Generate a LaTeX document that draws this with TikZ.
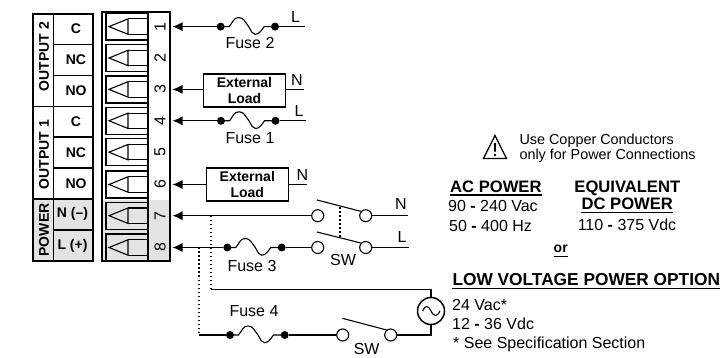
\documentclass[tikz,border=0pt]{standalone}
\usepackage{fontspec}
\setmainfont{Liberation Sans}
\usetikzlibrary{calc, arrows.meta}
\definecolor{pwr}{HTML}{e3e3e3}
\newcommand{\fuse}[2]{\draw[wire] (#1.center) -- ++(8.5,0)
	.. controls +(4,-5) and +(-5,0) .. ++(9.5,-9)
	.. controls +(5,0) and +(-4,-5) .. ++(10,9)
	.. controls +(3,5) and +(-3,0) .. ++(6.5,7.7)
	.. controls +(4,0) and +(-3,4) .. ++(9,-7.7) -- (#2.center);}
\newcommand{\uline}[2]{\draw[line width=1.2pt] ($(#1.base west)+(0,#2)$) -- ($(#1.base east)+(0,#2)$);}
\tikzset{
	wire/.style={line width=1.1pt},
	feed/.style={wire, -{Latex[length=10pt,width=9pt]}},
	dots/.style={line width=1.7pt, dash pattern=on 1.7pt off 2.3pt},
	fusedot/.style={circle, fill=black, inner sep=0pt, minimum size=8pt},
	contact/.style={circle, draw, wire, fill=white, inner sep=0pt, minimum size=12pt},
	txt/.style={inner sep=0pt, font=\fontsize{16}{18}\selectfont},
	bold/.style={inner sep=0pt, font=\fontsize{14}{15.5}\selectfont\bfseries},
	head/.style={inner sep=0pt, font=\fontsize{16.6}{18}\selectfont\bfseries},
	loadbox/.style={draw, wire, bold, align=center, minimum width=82pt, minimum height=33pt}
}
\begin{document}
\begin{tikzpicture}[x=1pt, y=-1pt]
	\useasboundingbox (0,0) rectangle (723,358);

	% Label strip
	\fill[pwr] (33,199) rectangle (93,261);
	\draw[wire] (33,14) rectangle (93,261);
	\draw[wire] (53.5,14) -- (53.5,261);
	\foreach \y in {44.5,75.5,137,168,230} \draw[wire] (53.5,\y) -- (93,\y);
	\draw[wire] (33,106.5) -- (93,106.5);
	\draw[wire] (33,199) -- (93,199);
	\node[bold, rotate=90] (out2) at (44,56.7) {OUTPUT 2};
	\node[bold, rotate=90] (out1) at (44,154.5) {OUTPUT 1};
	\node[bold, rotate=90] (power) at (44,230) {POWER};
	\node[bold] (lc2) at (76,29) {C};
	\node[bold] (lnc2) at (76,60) {NC};
	\node[bold] (lno2) at (76,90.5) {NO};
	\node[bold] (lc1) at (76,122) {C};
	\node[bold] (lnc1) at (76,153) {NC};
	\node[bold] (lno1) at (76,183.5) {NO};
	\node[bold] (ln) at (72.5,214) {N (--)};
	\node[bold] (ll) at (72.5,246) {L (+)};

	% Terminal block
	\fill[pwr] (102,200) rectangle (170,261);
	\draw[wire] (102,12) rectangle (170,261);
	\draw[wire] (148,12) -- (148,261);
	\foreach \n/\y in {1/26.6,2/58,3/89.4,4/120.8,5/152.2,6/184.5,7/215.7,8/247.5}{
		\draw[line width=1.3pt] (148,\y-13.5) -- (106,\y-13.5) -- (106,\y+13.5) -- (148,\y+13.5);
		\draw[wire] (128,\y-7.7) -- (109,\y) -- (128,\y+7.7) -- cycle;
		\draw[wire] (128,\y-7.7) -- (148,\y-7.7);
		\draw[wire] (128,\y+7.7) -- (148,\y+7.7);
		\node[txt, rotate=90] (num\n) at (160,\y) {\n};
		\coordinate (t\n) at (172.5,\y);
	}

	% Output 2 and output 1 wiring
	\node[fusedot] (f2a) at (220.7,26.6) {};
	\node[fusedot] (f2b) at (275,26.6) {};
	\coordinate (l2) at (305,26.6);
	\draw[feed] (f2a) -- (t1);
	\fuse{f2a}{f2b}
	\draw[wire] (f2b) -- (l2);
	\node[txt] (l2t) at (295.5,17) {L};
	\node[txt] (f2t) at (250,42.5) {Fuse 2};

	\node[loadbox] (load1) at (244.5,90.5) {External\\Load};
	\coordinate (n1) at (304,89.4);
	\draw[feed] (load1.west |- t3) -- (t3);
	\draw[wire] (load1.east |- t3) -- (n1);
	\node[txt] (n1t) at (297,80) {N};

	\node[fusedot] (f1a) at (221,120.8) {};
	\node[fusedot] (f1b) at (275.5,120.8) {};
	\coordinate (l1) at (306,120.8);
	\draw[feed] (f1a) -- (t4);
	\fuse{f1a}{f1b}
	\draw[wire] (f1b) -- (l1);
	\node[txt] (l1t) at (299,111) {L};
	\node[txt] (f1t) at (250,138) {Fuse 1};

	\node[loadbox] (load2) at (247.3,184.5) {External\\Load};
	\coordinate (n2) at (307,184.5);
	\draw[feed] (load2.west |- t6) -- (t6);
	\draw[wire] (load2.east |- t6) -- (n2);
	\node[txt] (n2t) at (302.5,174.5) {N};

	% Mains switch
	\node[contact] (sw7a) at (317.7,215.7) {};
	\node[contact] (sw7b) at (365.7,215.7) {};
	\node[contact] (sw8a) at (317.7,247.5) {};
	\node[contact] (sw8b) at (365.7,247.5) {};
	\node[fusedot] (f3a) at (227.3,247.5) {};
	\node[fusedot] (f3b) at (281.7,247.5) {};
	\coordinate (nn) at (407.7,215.7);
	\coordinate (ln1) at (409,247.5);
	\draw[feed] (sw7a) -- (t7);
	\draw[feed] (f3a) -- (t8);
	\fuse{f3a}{f3b}
	\draw[wire] (f3b) -- (sw8a);
	\draw[wire] (sw7b) -- (nn);
	\draw[wire] (sw8b) -- (ln1);
	\coordinate (b7a) at (317,200);
	\coordinate (b7b) at (360.7,211.3);
	\coordinate (b8a) at (317,232);
	\coordinate (b8b) at (360.7,243);
	\draw[wire] (b7a) -- (b7b);
	\draw[wire] (b8a) -- (b8b);
	\coordinate (gang7) at (340,207);
	\coordinate (gang8) at (340,238);
	\draw[dots] (gang7) -- (gang8);
	\node[txt] (nnt) at (401,204) {N};
	\node[txt] (lnt) at (402,237) {L};
	\node[txt] (f3t) at (252,265.7) {Fuse 3};
	\node[txt] (sw1t) at (343,260) {SW};

	% Low voltage option
	\node[circle, draw, line width=1.5pt, inner sep=0pt, minimum size=27pt] (src) at (431,311) {};
	\draw[wire] (422.7,311) .. controls (425,305) and (428,305) .. (431,311)
		.. controls (434,317) and (437,317) .. (440,311);
	\coordinate (d7a) at (211,215.7);
	\coordinate (d7b) at (211,289.3);
	\coordinate (d8a) at (199,247.5);
	\coordinate (d8b) at (199,335);
	\draw[dots] (d7a) -- (d7b);
	\draw[dots] (d8a) -- (d8b);
	\draw[wire] (d7b) -| (src.north);
	\node[fusedot] (f4a) at (230,335) {};
	\node[fusedot] (f4b) at (284.7,335) {};
	\node[contact] (sw4a) at (342.7,335) {};
	\node[contact] (sw4b) at (390.7,335) {};
	\draw[wire] (d8b) -- (f4a);
	\fuse{f4a}{f4b}
	\draw[wire] (f4b) -- (sw4a);
	\draw[wire] (sw4b) -| (src.south);
	\coordinate (b4a) at (342.3,318.3);
	\coordinate (b4b) at (386.7,330);
	\draw[wire] (b4a) -- (b4b);
	\node[txt] (f4t) at (254,310.7) {Fuse 4};
	\node[txt] (sw2t) at (366.7,349) {SW};

	% Power notes
	\draw[line width=1.2pt, line join=miter] (495,135.5) -- (506.5,158.5) -- (483.5,158.5) -- cycle;
	\fill (493.8,143) -- (496.2,143) -- (495.7,152) -- (494.3,152) -- cycle;
	\fill (495,155) circle (1.3);
	\node[txt, font=\fontsize{14.4}{15.5}\selectfont, anchor=west] (use1) at (519.3,140.7) {Use Copper Conductors};
	\node[txt, font=\fontsize{14.4}{15.5}\selectfont, anchor=west] (use2) at (519.3,156) {only for Power Connections};
	\node[head, anchor=west] (ac) at (450,186.7) {AC POWER};
	\uline{ac}{2.5}
	\node[txt, anchor=west] (ac1) at (448,206) {90 \textbf{-} 240 Vac};
	\node[txt, anchor=west] (ac2) at (449,226) {50 \textbf{-} 400 Hz};
	\node[head] (eq) at (627.3,188) {EQUIVALENT};
	\node[head] (dc) at (627.3,204) {DC POWER};
	\uline{dc}{2.5}
	\node[txt] (dc1) at (627,225) {110 \textbf{-} 375 Vdc};
	\node[bold] (ortxt) at (560.7,249) {or};
	\uline{ortxt}{3.5}
	\node[head, font=\fontsize{17.3}{19}\selectfont\bfseries, anchor=west] (lv) at (452.3,280) {LOW VOLTAGE POWER OPTION};
	\uline{lv}{2.5}
	\node[txt, anchor=west] (lv1) at (452,305) {24 Vac*};
	\node[txt, anchor=west] (lv2) at (452,324) {12 \textbf{-} 36 Vdc};
	\node[txt, anchor=west] (lv3) at (453,344.3) {* See Specification Section};
\end{tikzpicture}
\end{document}
